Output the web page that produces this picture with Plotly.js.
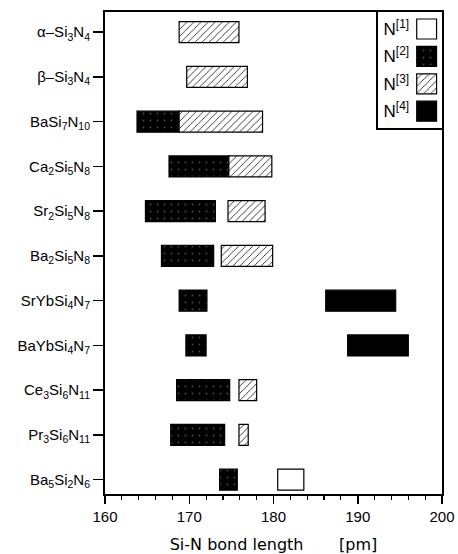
<!DOCTYPE html>
<html>
<head>
<meta charset="utf-8">
<script src="https://cdn.plot.ly/plotly-3.0.1.min.js"></script>
<style>html,body{margin:0;padding:0;background:#fff;}#chart{width:458px;height:554px;}</style>
</head>
<body>
<div id="chart"></div>
<script>
// ---- data ----
const compounds = [
  'α–Si<sub>3</sub>N<sub>4</sub>',
  'β–Si<sub>3</sub>N<sub>4</sub>',
  'BaSi<sub>7</sub>N<sub>10</sub>',
  'Ca<sub>2</sub>Si<sub>5</sub>N<sub>8</sub>',
  'Sr<sub>2</sub>Si<sub>5</sub>N<sub>8</sub>',
  'Ba<sub>2</sub>Si<sub>5</sub>N<sub>8</sub>',
  'SrYbSi<sub>4</sub>N<sub>7</sub>',
  'BaYbSi<sub>4</sub>N<sub>7</sub>',
  'Ce<sub>3</sub>Si<sub>6</sub>N<sub>11</sub>',
  'Pr<sub>3</sub>Si<sub>6</sub>N<sub>11</sub>',
  'Ba<sub>5</sub>Si<sub>2</sub>N<sub>6</sub>'
];
const legendLabels = ['N<sup>[1]</sup>', 'N<sup>[2]</sup>', 'N<sup>[3]</sup>', 'N<sup>[4]</sup>'];

// N[1] bond length ranges (pm)
const n1Idx   = [10];
const n1Start = [180.5];
const n1End   = [183.6];

// N[2]
const n2Idx   = [2, 3, 4, 5, 6, 7, 8, 9, 10];
const n2Start = [163.8, 167.6, 164.8, 166.7, 168.8, 169.6, 168.5, 167.8, 173.6];
const n2End   = [168.8, 174.7, 173.1, 172.9, 172.1, 172.0, 174.8, 174.2, 175.7];

// N[3]
const n3Idx   = [0, 1, 2, 3, 4, 5, 8, 9];
const n3Start = [168.8, 169.7, 168.8, 174.7, 174.6, 173.8, 175.9, 175.9];
const n3End   = [175.9, 176.9, 178.7, 179.8, 179.0, 179.9, 178.0, 177.0];

// N[4]
const n4Idx   = [6, 7];
const n4Start = [186.2, 188.8];
const n4End   = [194.5, 196.0];

// ---- styles ----
const lineStyle = {color: '#000', width: 1.2};
const styles = [
  {color: '#fff', line: lineStyle},
  {color: '#000', line: lineStyle, pattern: {shape: '.', bgcolor: '#000', fgcolor: '#4a4a4a', size: 7, solidity: 0.05}},
  {color: '#fff', line: lineStyle, pattern: {shape: '/', bgcolor: '#fff', fgcolor: '#000', size: 5, solidity: 0.15}},
  {color: '#000', line: lineStyle}
];

function rangeTrace(idx, start, end, style) {
  return {
    type: 'bar', orientation: 'h',
    y: idx, base: start, x: end.map((e, i) => e - start[i]),
    width: 0.47, marker: style, showlegend: false, hoverinfo: 'skip',
    xaxis: 'x', yaxis: 'y'
  };
}

const traces = [
  rangeTrace(n1Idx, n1Start, n1End, styles[0]),
  rangeTrace(n2Idx, n2Start, n2End, styles[1]),
  rangeTrace(n3Idx, n3Start, n3End, styles[2]),
  rangeTrace(n4Idx, n4Start, n4End, styles[3])
];

// legend swatches drawn in an inset axis
legendLabels.forEach((lab, i) => {
  traces.push({
    type: 'bar', orientation: 'h', y: [i], base: [0.605], x: [0.31],
    width: 0.73, marker: styles[i], showlegend: false, hoverinfo: 'skip',
    xaxis: 'x2', yaxis: 'y2'
  });
});

const font = {family: '"Liberation Sans", Arial, sans-serif', size: 15, color: '#000'};
const NB = '\u00a0';

const layout = {
  width: 458, height: 554,
  margin: {l: 105, r: 16, t: 12, b: 60},
  paper_bgcolor: '#fff', plot_bgcolor: '#fff',
  font: font,
  barmode: 'overlay',
  showlegend: false,
  xaxis: {
    range: [160, 200], dtick: 10, tick0: 160,
    ticks: 'outside', ticklen: 8, tickwidth: 1.5, tickcolor: '#000',
    minor: {dtick: 2, ticks: 'outside', ticklen: 4, tickwidth: 1.2, tickcolor: '#000', showgrid: false},
    showline: true, linewidth: 2, linecolor: '#000', mirror: true,
    showgrid: false, zeroline: false, automargin: false,
    tickfont: {size: 15, color: '#000'},
    title: {
      text: NB.repeat(4) + 'Si-N bond length' + NB.repeat(7) + '[pm]',
      font: {family: '"DejaVu Sans", sans-serif', size: 16, color: '#000'},
      standoff: 32
    }
  },
  yaxis: {
    range: [10.32, -0.45],
    tickvals: compounds.map((c, i) => i), ticktext: compounds,
    ticks: 'outside', ticklen: 10, tickwidth: 1.5, tickcolor: '#000',
    showline: true, linewidth: 2, linecolor: '#000', mirror: true,
    showgrid: false, zeroline: false, automargin: false,
    tickfont: {size: 15, color: '#000'}
  },
  xaxis2: {
    domain: [0.81, 1], range: [0, 1], anchor: 'y2',
    showline: true, mirror: true, linewidth: 1.5, linecolor: '#000',
    showticklabels: false, ticks: '', showgrid: false, zeroline: false, fixedrange: true
  },
  yaxis2: {
    domain: [0.759, 1], range: [3.62, -0.62], anchor: 'x2',
    tickvals: legendLabels.map((l, i) => i), ticktext: legendLabels,
    ticklabelposition: 'inside', ticklabelstandoff: 6, ticks: '',
    showline: true, mirror: true, linewidth: 1.5, linecolor: '#000',
    showgrid: false, zeroline: false, fixedrange: true,
    tickfont: {size: 17, color: '#000'}
  }
};

Plotly.newPlot('chart', traces, layout, {staticPlot: true, displayModeBar: false});
</script>
</body>
</html>
